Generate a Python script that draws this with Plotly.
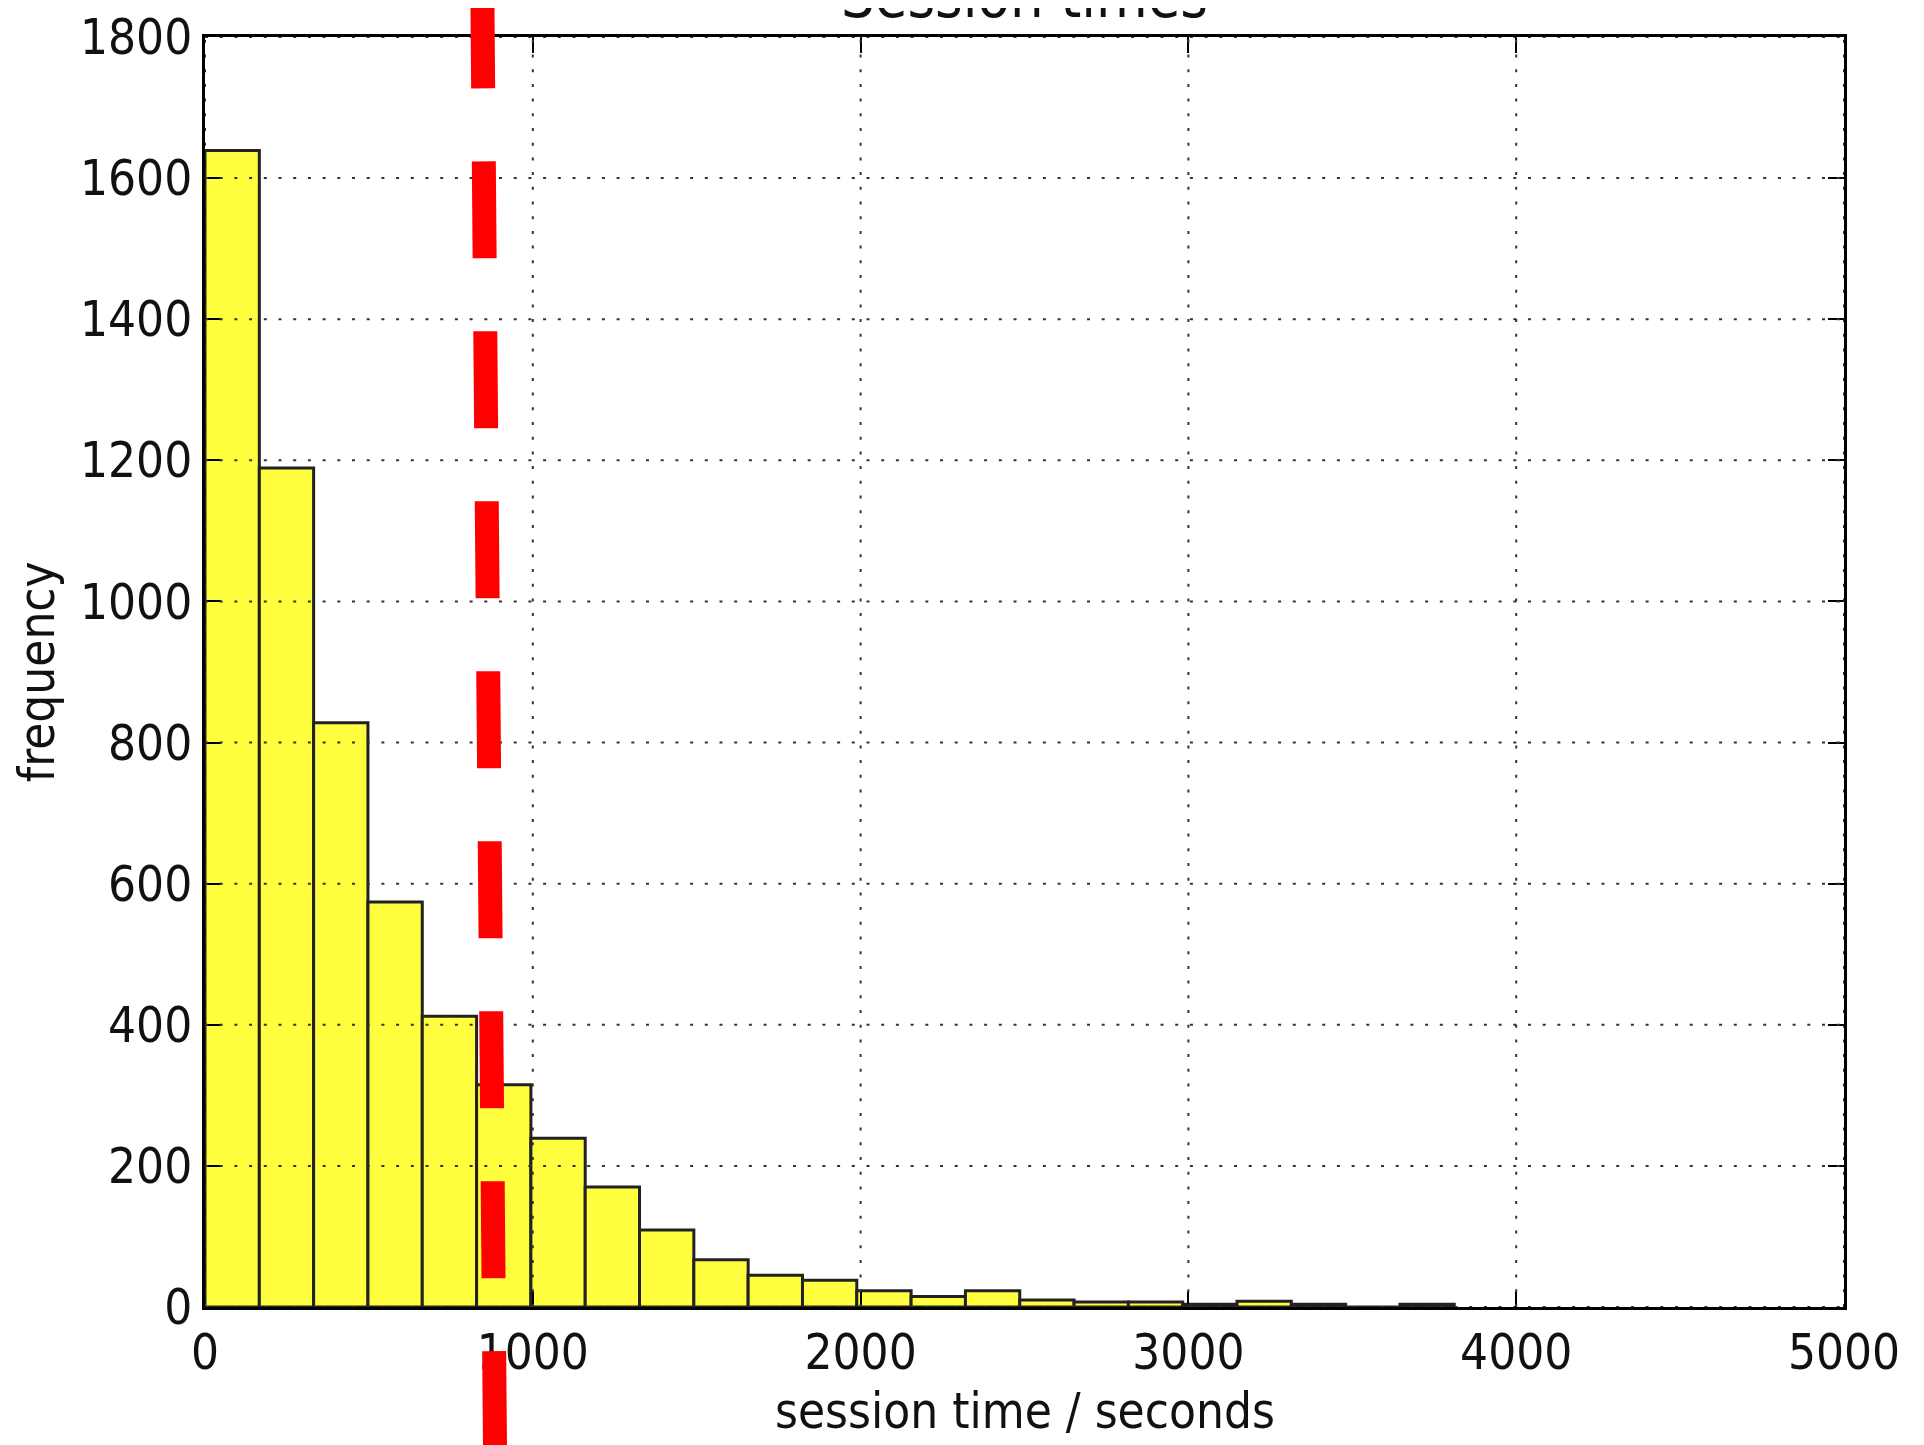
import numpy as np
import plotly.graph_objects as go

# ---- data ----
bin_start = 0.0
bin_width = 165.7
counts = [1639, 1189, 828, 574, 412, 315, 239, 170, 109, 67, 45, 38,
          23, 15, 23, 10, 7, 7, 4, 8, 4, 0, 4]
x_ticks = [0, 1000, 2000, 3000, 4000, 5000]
y_ticks = [0, 200, 400, 600, 800, 1000, 1200, 1400, 1600, 1800]
marker_line_x = [846, 885]        # seconds (slightly slanted marker line)
marker_line_y = [1.036, -0.12]    # fraction of plot height (extends past the axes)

title_text = "Session times"
x_title = "session time / seconds"
y_title = "frequency"

FONT = "DejaVu Sans Condensed, DejaVu Sans, sans-serif"
TXT = "#111111"
FS = 49

centers = bin_start + bin_width * (np.arange(len(counts)) + 0.5)

fig = go.Figure()
fig.add_trace(go.Bar(
    x=centers, y=counts, width=bin_width,
    marker=dict(color="#FFFF3F", line=dict(color="#222222", width=3)),
    showlegend=False, hoverinfo="x+y",
))

shapes = []
# dotted grid drawn above the bars (as in the reference)
for xv in x_ticks:
    shapes.append(dict(type="line", xref="x", yref="paper", x0=xv, x1=xv, y0=0, y1=1,
                       line=dict(color="#333333", width=2, dash="3px,11.7px"), layer="above"))
for yv in y_ticks:
    shapes.append(dict(type="line", xref="paper", yref="y", x0=0, x1=1, y0=yv, y1=yv,
                       line=dict(color="#333333", width=2, dash="3px,11.7px"), layer="above"))
# red dashed marker line
shapes.append(dict(type="line", xref="x", yref="paper",
                   x0=marker_line_x[0], x1=marker_line_x[1],
                   y0=marker_line_y[0], y1=marker_line_y[1],
                   line=dict(color="#FF0000", width=24, dash="97px,73px"), layer="above"))

axis_common = dict(
    showline=True, linecolor="black", linewidth=3, mirror="ticks",
    ticks="inside", ticklen=16, tickwidth=2, tickcolor="black",
    showgrid=False, zeroline=False, layer="above traces",
    tickfont=dict(family=FONT, size=FS, color=TXT),
)

fig.update_layout(
    width=1916, height=1437,
    paper_bgcolor="white", plot_bgcolor="white",
    margin=dict(l=197, r=80, t=29, b=138, autoexpand=False),
    xaxis=dict(range=[0, 5000], tickvals=x_ticks, ticklabelstandoff=0, **axis_common),
    yaxis=dict(range=[0, 1800], tickvals=y_ticks, ticklabelstandoff=0, **axis_common),
    shapes=shapes,
    annotations=[
        dict(text=title_text, xref="paper", yref="paper", x=0.5, y=1.003,
             xanchor="center", yanchor="bottom", showarrow=False,
             font=dict(family=FONT, size=59, color=TXT)),
        dict(text=x_title, xref="paper", yref="paper", x=0.5, y=-0.058,
             xanchor="center", yanchor="top", showarrow=False,
             font=dict(family=FONT, size=FS, color=TXT)),
        dict(text=y_title, xref="paper", yref="paper", x=-0.1023, y=0.5,
             xanchor="center", yanchor="middle", textangle=-90, showarrow=False,
             font=dict(family=FONT, size=FS, color=TXT)),
    ],
)

fig.write_html("out.html")
